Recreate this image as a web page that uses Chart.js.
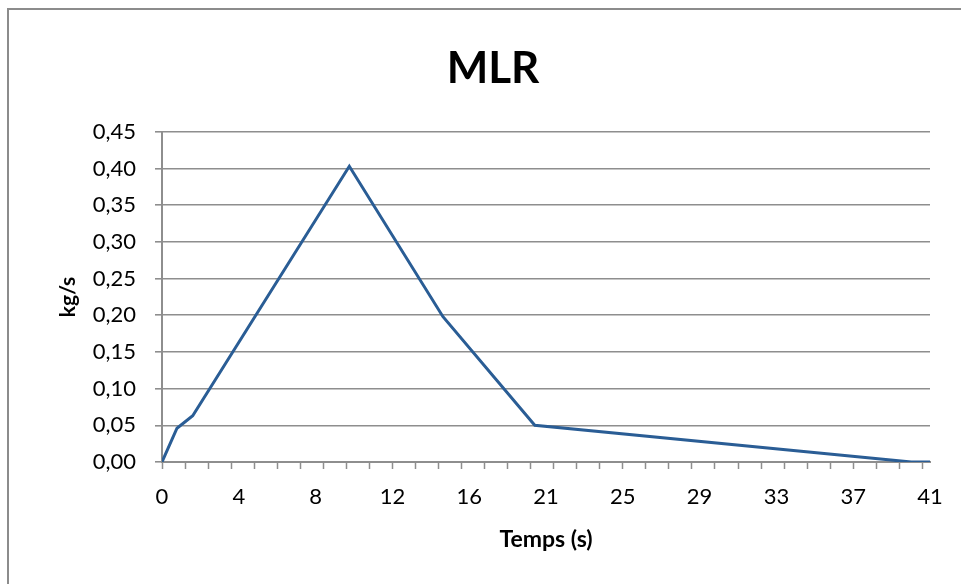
<!DOCTYPE html>
<html>
<head>
<meta charset="utf-8">
<script src="https://cdn.jsdelivr.net/npm/chart.js@4"></script>
<style>
  html, body { margin: 0; padding: 0; background: #ffffff; overflow: hidden; }
  #frame {
    position: absolute; left: 7px; top: 8px;
    width: 1000px; height: 620px;
    border: 2px solid #8c8c8c; box-sizing: border-box;
  }
  #wrap { position: absolute; left: 0; top: 0; width: 961px; height: 584px; }
</style>
</head>
<body>
<div id="frame"></div>
<div id="wrap"><canvas id="mlrChart" width="961" height="584"></canvas></div>
<script>
// Mass loss rate over time
const timeSec = [0, 0.8, 1.64, 10.0, 15.0, 19.9, 40.0, 41.0];
const mlrKgs  = [0, 0.046, 0.063, 0.403, 0.198, 0.05, 0.0, 0.0];

// Time axis: labelled positions and their printed text
const xLabelValues = [0, 4.1, 8.2, 12.3, 16.4, 20.5, 24.6, 28.7, 32.8, 36.9, 41];
const xLabelText   = ["0", "4", "8", "12", "16", "21", "25", "29", "33", "37", "41"];
const xMarkStep = 1.23;   // spacing of the small tick marks
const xMarkCount = 34;

const yMax = 0.45;
const yStep = 0.05;

const axisGray = "#8e8e8e";
const lineBlue = "#2a5d95";

function near(a, b) { return Math.abs(a - b) < 1e-6; }
function isMark(v) {
    for (let k = 0; k < xMarkCount; k++) if (near(v, k * xMarkStep)) return true;
    return false;
}

document.addEventListener("DOMContentLoaded", function () {
    let ctx = document.getElementById("mlrChart").getContext("2d");
    new Chart(ctx, {
        type: "line",
        data: {
            datasets: [{
                label: "MLR",
                data: timeSec.map((t, i) => ({ x: t, y: mlrKgs[i] })),
                borderColor: lineBlue,
                borderWidth: 3,
                pointRadius: 0,
                tension: 0,
                fill: false
            }]
        },
        options: {
            responsive: false,
            animation: false,
            layout: { padding: { left: 56, right: 31, top: 0, bottom: 0 } },
            plugins: {
                legend: { display: false },
                tooltip: { enabled: false },
                title: {
                    display: true,
                    text: "MLR",
                    color: "#000000",
                    font: { family: "Lato", size: 44, weight: "bold" },
                    padding: { top: 42, bottom: 37 }
                }
            },
            scales: {
                x: {
                    type: "linear",
                    min: 0,
                    max: 41,
                    afterFit: function (scale) { scale.height = 122; },
                    afterBuildTicks: function (scale) {
                        // union of labelled positions and tick-mark positions
                        let vals = xLabelValues.slice();
                        for (let k = 0; k < xMarkCount; k++) {
                            let v = k * xMarkStep;
                            if (!vals.some(w => near(w, v))) vals.push(v);
                        }
                        vals.sort((a, b) => a - b);
                        scale.ticks = vals.map(v => ({ value: v }));
                    },
                    ticks: {
                        autoSkip: false,
                        maxRotation: 0,
                        minRotation: 0,
                        padding: 15,
                        color: "#000000",
                        font: { family: "Lato", size: 22 },
                        callback: function (value) {
                            let i = xLabelValues.findIndex(w => near(w, value));
                            return i >= 0 ? xLabelText[i] : "";
                        }
                    },
                    grid: {
                        drawOnChartArea: false,
                        drawTicks: true,
                        tickLength: 7,
                        tickWidth: 1.5,
                        tickColor: function (c) {
                            return c.tick && isMark(c.tick.value) ? axisGray : "rgba(0,0,0,0)";
                        }
                    },
                    border: { color: axisGray, width: 2 },
                    title: {
                        display: true,
                        text: "Temps (s)",
                        color: "#000000",
                        font: { family: "Lato", size: 23, weight: "bold" },
                        padding: { top: 0, bottom: 31 }
                    }
                },
                y: {
                    min: 0,
                    max: yMax,
                    afterFit: function (scale) { scale.width = 106; },
                    ticks: {
                        stepSize: yStep,
                        padding: 19,
                        color: "#000000",
                        font: { family: "Lato", size: 22 },
                        callback: function (value) {
                            return value.toFixed(2).replace(".", ",");
                        }
                    },
                    grid: {
                        color: axisGray,
                        lineWidth: 1.6,
                        drawTicks: true,
                        tickLength: 7
                    },
                    border: { color: axisGray, width: 2 },
                    title: {
                        display: true,
                        text: "kg/s",
                        color: "#000000",
                        font: { family: "Lato", size: 21, weight: "bold" },
                        padding: { top: 0, bottom: 0 }
                    }
                }
            }
        }
    });
});
</script>
</body>
</html>
